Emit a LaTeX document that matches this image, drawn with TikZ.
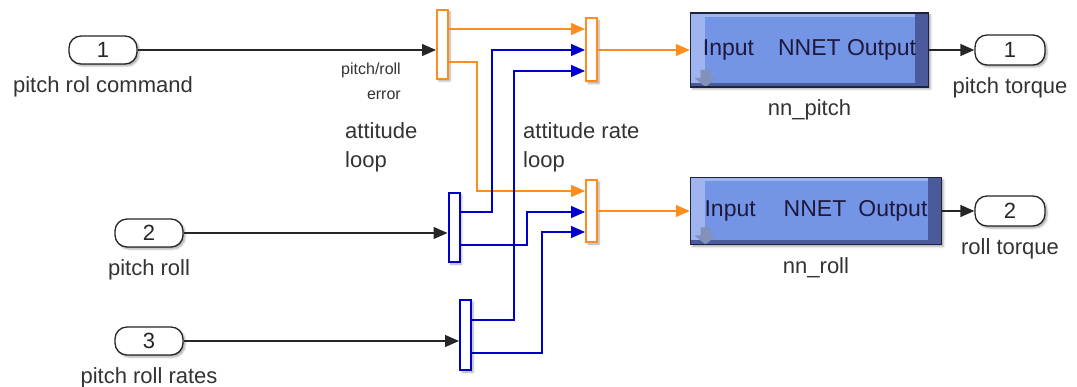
\documentclass[tikz,border=0pt]{standalone}
\usepackage{fontspec}
\setmainfont{Liberation Sans}
\usetikzlibrary{arrows.meta,positioning,calc,shadows.blur}

\definecolor{simorange}{RGB}{255,140,30}
\definecolor{simblue}{RGB}{0,0,205}
\definecolor{nnfill}{RGB}{116,148,230}
\definecolor{nnlight}{RGB}{160,180,240}
\definecolor{nndark}{RGB}{74,90,154}
\definecolor{nnborder}{RGB}{30,35,60}
\definecolor{nntext}{RGB}{30,25,60}
\definecolor{nnicon}{RGB}{130,145,185}

\newcommand{\simfont}{\fontsize{22}{29}\selectfont}
\newcommand{\nnfont}{\fontsize{23}{29}\selectfont}
\newcommand{\sigfont}{\fontsize{16}{25}\selectfont}

\begin{document}
\begin{tikzpicture}[x=1pt,y=-1pt,
  shade/.style={blur shadow={shadow xshift=2pt,shadow yshift=-2pt,
      shadow blur radius=2pt,shadow opacity=35}},
  port/.style={draw=black!85,line width=1.3pt,rounded corners=12pt,fill=white,
    minimum width=68pt,minimum height=28pt,inner sep=0pt,font=\simfont,
    text=black!85,shade},
  lbl/.style={inner sep=0pt,font=\simfont,text=black!80},
  bar/.style={line width=2pt,fill=white,minimum width=11pt,inner sep=0pt,shade},
  obar/.style={bar,draw=simorange},
  bbar/.style={bar,draw=simblue},
  nnblock/.style={draw=nnborder,line width=1.5pt,fill=nnfill,inner sep=0pt,
    font=\nnfont,text=nntext,shade,
    path picture={
      \fill[nnlight] (path picture bounding box.north west) rectangle
        ([xshift=14pt]path picture bounding box.south west);
      \fill[nnlight] (path picture bounding box.north west) rectangle
        ([yshift=-4pt]path picture bounding box.north east);
      \fill[nndark] ([xshift=-14pt]path picture bounding box.north east) rectangle
        (path picture bounding box.south east);
      \fill[nndark] ([yshift=4pt]path picture bounding box.south west) rectangle
        (path picture bounding box.south east);
      \fill[nnicon] ([xshift=10pt,yshift=17pt]path picture bounding box.south west)
        -- ([xshift=20pt,yshift=17pt]path picture bounding box.south west)
        -- ([xshift=20pt,yshift=9pt]path picture bounding box.south west)
        -- ([xshift=26pt,yshift=9pt]path picture bounding box.south west)
        -- ([xshift=15pt,yshift=0pt]path picture bounding box.south west)
        -- ([xshift=4pt,yshift=9pt]path picture bounding box.south west)
        -- ([xshift=10pt,yshift=9pt]path picture bounding box.south west) -- cycle;
    }},
  wire/.style={line width=1.3pt,-{Triangle[length=14pt,width=12pt]}},
  bwire/.style={wire,draw=black!85},
  owire/.style={wire,draw=simorange},
  uwire/.style={wire,draw=simblue}]
\useasboundingbox (0,0) rectangle (1077,387);

% inports
\node[port,label={[lbl,label distance=12pt]below:pitch rol command}] (cmdin) at (103,50) {1};
\node[port,label={[lbl,label distance=12pt]below:pitch roll}] (rollin) at (149,233) {2};
\node[port,label={[lbl,label distance=12pt]below:pitch roll rates}] (ratein) at (149,341) {3};

% demux / mux bars
\node[obar,minimum height=69pt] (errdemux) at (442.5,44.5) {};
\node[obar,minimum height=63pt] (pitchmux) at (591.5,50) {};
\node[obar,minimum height=62pt] (rollmux) at (591.5,211) {};
\node[bbar,minimum height=69pt] (rolldemux) at (454,227.5) {};
\node[bbar,minimum height=70pt] (ratedemux) at (465.5,335) {};

% neural net blocks
\node[nnblock,minimum width=238pt,minimum height=74pt,
  label={[lbl,label distance=12pt]below:nn\_pitch}] (nnpitch) at (809.5,50)
  {Input\hspace{24pt}NNET Output};
\node[nnblock,minimum width=251pt,minimum height=67pt,
  label={[lbl,label distance=12pt]below:nn\_roll}] (nnroll) at (816,211)
  {Input\hspace{28pt}NNET\hspace{12pt}Output};

% outports
\node[port,minimum width=70pt,minimum height=30pt,
  label={[lbl,label distance=12pt]below:pitch torque}] (pitchout) at (1010,50) {1};
\node[port,minimum width=70pt,minimum height=30pt,
  label={[lbl,label distance=12pt]below:roll torque}] (rollout) at (1010,211) {2};

% texts
\node[lbl,font=\sigfont,align=right,anchor=east] (errlbl) at (401,81) {pitch/roll\\error};
\node[lbl,align=left,anchor=west] (attlbl) at (345,147) {attitude\\loop};
\node[lbl,align=left,anchor=west] (ratelbl) at (523,147) {attitude rate\\loop};

% black signals
\draw[bwire] (cmdin.east) -- (cmdin.east -| errdemux.west);
\draw[bwire] (rollin.east) -- (rollin.east -| rolldemux.west);
\draw[bwire] (ratein.east) -- (ratein.east -| ratedemux.west);
\draw[bwire] (nnpitch.east) -- (pitchout.west);
\draw[bwire] (nnroll.east) -- (rollout.west);

% orange signals
\draw[owire] (errdemux.east |- 0,29) -- (pitchmux.west |- 0,29);
\draw[owire] (errdemux.east |- 0,62) -| (477,128) |- (rollmux.west |- 0,191);
\draw[owire] (pitchmux.east) -- (pitchmux.east -| nnpitch.west);
\draw[owire] (rollmux.east) -- (rollmux.east -| nnroll.west);

% blue signals
\draw[uwire] (rolldemux.east |- 0,212) -| (492,100) |- (pitchmux.west |- 0,50);
\draw[uwire] (rolldemux.east |- 0,245) -| (527,230) |- (rollmux.west |- 0,212);
\draw[uwire] (ratedemux.east |- 0,320) -| (514,200) |- (pitchmux.west |- 0,71);
\draw[uwire] (ratedemux.east |- 0,353) -| (542,300) |- (rollmux.west |- 0,232);
\end{tikzpicture}
\end{document}
